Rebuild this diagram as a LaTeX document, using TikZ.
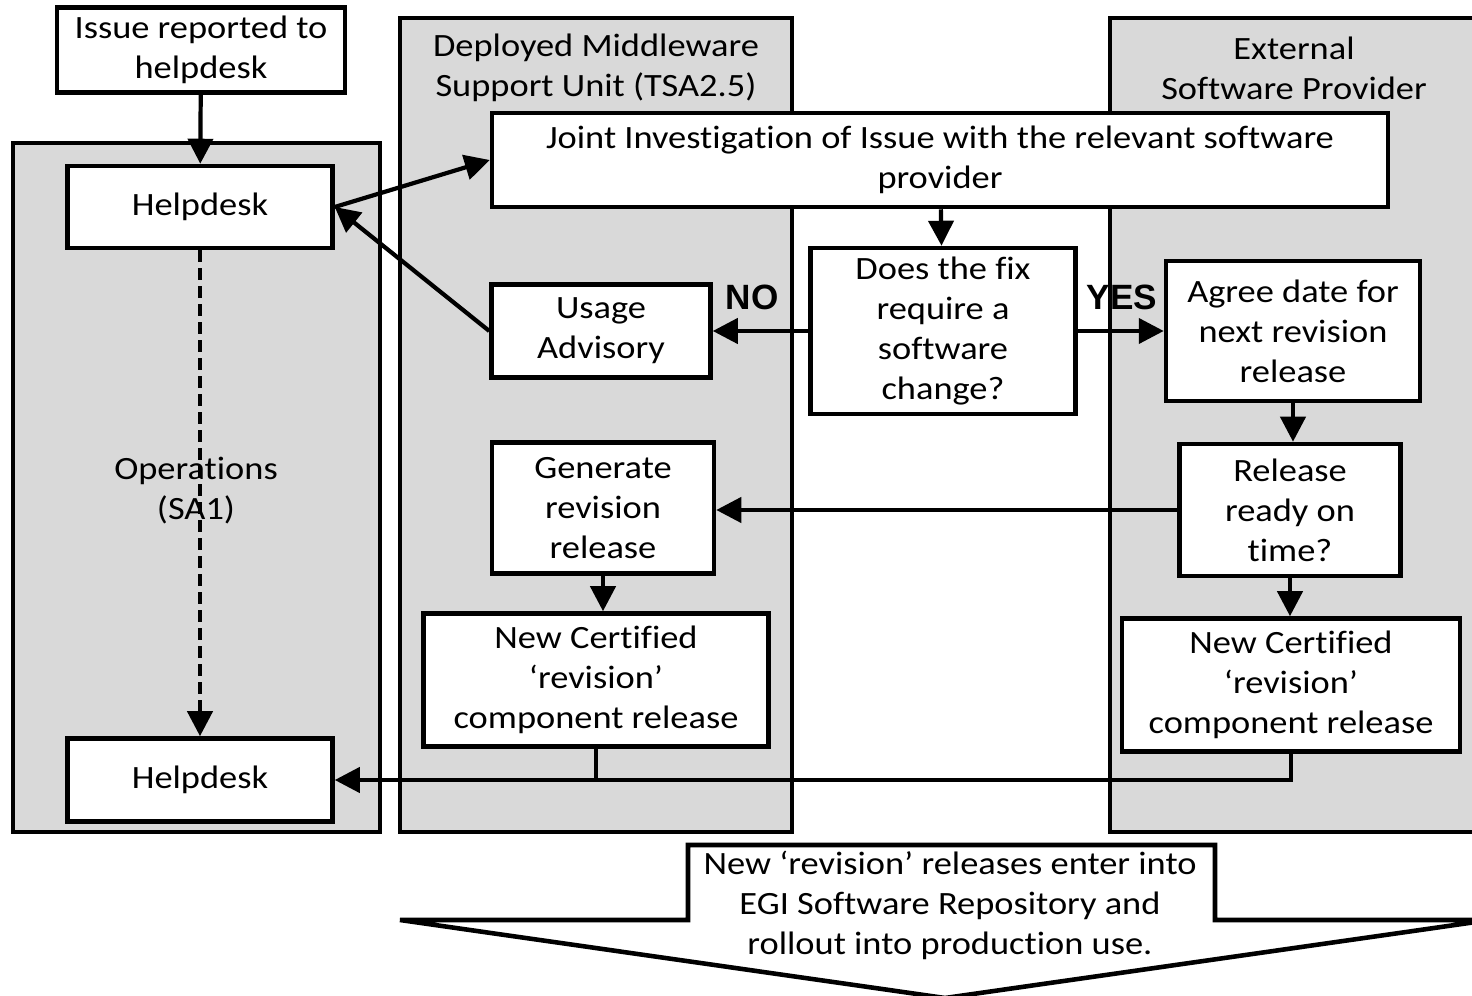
\documentclass[tikz,border=0pt]{standalone}
\usepackage{fontspec}
\setmainfont[FakeStretch=1.12,Ligatures=NoCommon]{Carlito}
\newfontfamily\labelfont{Liberation Sans}
\usetikzlibrary{arrows.meta}
\definecolor{lanegray}{HTML}{D9D9D9}

\begin{document}
\begin{tikzpicture}[x=0.02cm,y=-0.02cm,
  lane/.style={fill=lanegray,draw=black,line width=2.2pt},
  box/.style={draw=black,fill=white,line width=2.6pt,align=center,inner sep=0pt,
    font=\fontsize{18.5}{22.8}\selectfont},
  txt/.style={align=center,font=\fontsize{18.5}{22.8}\selectfont},
  yesno/.style={font=\labelfont\bfseries\fontsize{20}{24}\selectfont},
  arr/.style={line width=2.4pt,-{Triangle[length=0.5cm,width=0.5cm]}}]

\useasboundingbox (0,0) rectangle (1472,996);

% swim lanes
\draw[lane] (13,143) rectangle (380,832);
\draw[lane] (400,18) rectangle (792,832);
\draw[lane] (1110,18) rectangle (1500,832);

\node[txt] (ops) at (196,491) {Operations\\(SA1)};
\node[txt] (dmsu) at (596,68) {Deployed Middleware\\Support Unit (TSA2.5)};
\node[txt] (esp) at (1294,68) {External\\Software Provider};

% boxes
\node[box,minimum width=5.76cm,minimum height=1.7cm] (issue) at (201,50) {Issue reported to\\helpdesk};
\node[box,minimum width=5.3cm,minimum height=1.64cm] (help1) at (200,207) {Helpdesk};
\node[box,minimum width=5.3cm,minimum height=1.66cm] (help2) at (200,780) {Helpdesk};
\node[box,minimum width=17.92cm,minimum height=1.88cm] (joint) at (940,160) {Joint Investigation of Issue with the relevant software\\provider};
\node[box,minimum width=4.38cm,minimum height=1.86cm] (usage) at (601,331) {Usage\\Advisory};
\node[box,minimum width=5.3cm,minimum height=3.32cm] (fix) at (943,331) {Does the fix\\require a\\software\\change?};
\node[box,minimum width=5.08cm,minimum height=2.8cm] (agree) at (1293,331) {Agree date for\\next revision\\release};
\node[box,minimum width=4.42cm,minimum height=2.64cm] (ready) at (1290,510) {Release\\ready on\\time?};
\node[box,minimum width=4.44cm,minimum height=2.62cm] (gen) at (603,508) {Generate\\revision\\release};
\node[box,minimum width=6.9cm,minimum height=2.66cm] (certl) at (596,680) {New Certified\\‘revision’\\component release};
\node[box,minimum width=6.76cm,minimum height=2.66cm] (certr) at (1291,685) {New Certified\\‘revision’\\component release};

% bottom block arrow
\draw[line width=2.6pt,fill=white] (688,845) -- (1215,845) -- (1215,920) -- (1490,920)
  -- (945,998) -- (400,920) -- (688,920) -- cycle;
\node[txt] (repo) at (950,905) {New ‘revision’ releases enter into\\EGI Software Repository and\\rollout into production use.};

\node[yesno] (no) at (752,297) {NO};
\node[yesno] (yes) at (1122,297) {YES};

% connectors
\draw[arr] (issue) -- (help1);
\draw[arr] (help1.east) -- (joint.west);
\draw[arr] (usage.west) -- (help1.east);
\draw[arr] (joint) -- (fix);
\draw[arr] (fix) -- (usage);
\draw[arr] (fix) -- (agree);
\draw[arr] (agree.south) -- (agree.south |- ready.north);
\draw[arr] (ready) -- (ready -| gen.east);
\draw[arr] (ready) -- (ready |- certr.north);
\draw[arr] (gen.south) -- (gen.south |- certl.north);
\draw[arr,dash pattern=on 0.24cm off 0.12cm] (help1) -- (help2);
\draw[arr] (certl.south) |- (help2.east);
\draw[line width=2.4pt] (certr.south) |- (certl.south |- help2.east);

\end{tikzpicture}
\end{document}
